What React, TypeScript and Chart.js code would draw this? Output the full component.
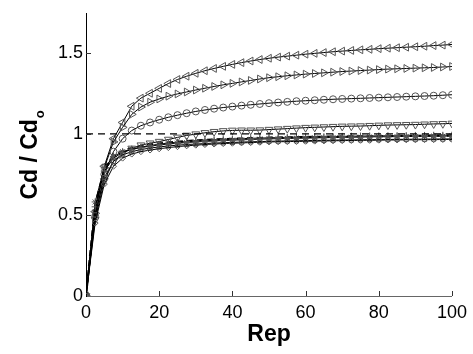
import React, { useEffect, useRef } from "react";
import { Chart, registerables } from "chart.js";

Chart.register(...registerables);

const xValues = [0, 2.5, 5, 7.5, 10, 12.5, 15, 17.5, 20, 22.5, 25, 27.5, 30, 32.5, 35, 37.5, 40, 42.5, 45, 47.5, 50, 52.5, 55, 57.5, 60, 62.5, 65, 67.5, 70, 72.5, 75, 77.5, 80, 82.5, 85, 87.5, 90, 92.5, 95, 97.5, 100];

const seriesLeftTri = [0, 0.52, 0.80, 0.97, 1.07, 1.17, 1.22, 1.25, 1.28, 1.31, 1.335, 1.355, 1.373, 1.389, 1.403, 1.416, 1.428, 1.439, 1.449, 1.458, 1.466, 1.473, 1.479, 1.485, 1.491, 1.496, 1.501, 1.506, 1.51, 1.514, 1.518, 1.521, 1.525, 1.528, 1.531, 1.534, 1.537, 1.540, 1.544, 1.547, 1.551];
const seriesRightTri = [0, 0.51, 0.79, 0.95, 1.04, 1.12, 1.165, 1.195, 1.215, 1.232, 1.246, 1.258, 1.27, 1.281, 1.292, 1.302, 1.311, 1.32, 1.329, 1.338, 1.346, 1.352, 1.358, 1.363, 1.368, 1.372, 1.376, 1.38, 1.384, 1.387, 1.39, 1.393, 1.396, 1.399, 1.401, 1.403, 1.405, 1.407, 1.409, 1.412, 1.415];
const seriesCircle = [0, 0.49, 0.75, 0.89, 0.97, 1.02, 1.05, 1.07, 1.087, 1.102, 1.115, 1.127, 1.138, 1.147, 1.155, 1.162, 1.168, 1.174, 1.179, 1.184, 1.189, 1.193, 1.197, 1.201, 1.204, 1.207, 1.21, 1.213, 1.215, 1.217, 1.219, 1.221, 1.223, 1.225, 1.227, 1.229, 1.231, 1.233, 1.235, 1.238, 1.241];
const seriesDownTri = [0, 0.47, 0.71, 0.83, 0.88, 0.91, 0.93, 0.942, 0.952, 0.965, 0.978, 0.99, 0.998, 1.006, 1.013, 1.018, 1.021, 1.022, 1.022, 1.023, 1.026, 1.029, 1.032, 1.035, 1.038, 1.04, 1.042, 1.044, 1.046, 1.047, 1.048, 1.05, 1.052, 1.054, 1.055, 1.056, 1.057, 1.059, 1.061, 1.062, 1.064];
const seriesStar = [0, 0.58, 0.79, 0.86, 0.89, 0.905, 0.915, 0.924, 0.931, 0.937, 0.942, 0.946, 0.95, 0.953, 0.956, 0.959, 0.961, 0.963, 0.965, 0.967, 0.969, 0.97, 0.972, 0.973, 0.974, 0.975, 0.976, 0.977, 0.978, 0.979, 0.98, 0.981, 0.982, 0.982, 0.983, 0.984, 0.984, 0.985, 0.986, 0.986, 0.987];
const seriesPlus = [0, 0.55, 0.77, 0.85, 0.885, 0.905, 0.918, 0.928, 0.936, 0.943, 0.948, 0.953, 0.957, 0.96, 0.963, 0.966, 0.968, 0.97, 0.972, 0.974, 0.975, 0.977, 0.978, 0.979, 0.98, 0.981, 0.982, 0.983, 0.984, 0.985, 0.986, 0.987, 0.987, 0.988, 0.989, 0.989, 0.99, 0.99, 0.991, 0.991, 0.992];
const seriesSquare = [0, 0.5, 0.73, 0.83, 0.87, 0.89, 0.903, 0.912, 0.919, 0.925, 0.93, 0.934, 0.937, 0.94, 0.943, 0.945, 0.947, 0.949, 0.951, 0.952, 0.954, 0.955, 0.956, 0.957, 0.958, 0.959, 0.96, 0.961, 0.962, 0.962, 0.963, 0.964, 0.964, 0.965, 0.966, 0.966, 0.967, 0.967, 0.968, 0.968, 0.969];
const seriesDiamond = [0, 0.45, 0.69, 0.8, 0.85, 0.875, 0.89, 0.9, 0.908, 0.915, 0.921, 0.926, 0.93, 0.934, 0.937, 0.94, 0.942, 0.944, 0.946, 0.948, 0.95, 0.951, 0.952, 0.953, 0.954, 0.955, 0.956, 0.957, 0.958, 0.959, 0.96, 0.96, 0.961, 0.962, 0.962, 0.963, 0.963, 0.964, 0.964, 0.965, 0.965];
const seriesDashed = [0, 0.56, 0.78, 0.86, 0.895, 0.912, 0.924, 0.933, 0.94, 0.946, 0.951, 0.955, 0.959, 0.962, 0.965, 0.967, 0.969, 0.971, 0.973, 0.974, 0.976, 0.977, 0.978, 0.979, 0.98, 0.981, 0.982, 0.983, 0.983, 0.984, 0.985, 0.985, 0.986, 0.986, 0.987, 0.987, 0.988, 0.988, 0.989, 0.989, 0.99];

const refX = [0, 100];
const refY = [1, 1];

const xTicks = [0, 20, 40, 60, 80, 100];
const yTicks = [0, 0.5, 1, 1.5];

const xTitle = "Rep";
const yTitleMain = "Cd / Cd";
const yTitleSub = "o";

const FONT = "'Liberation Sans', Arial, Helvetica, sans-serif";

const toPts = (ys: number[]) => xValues.map((x, i) => ({ x, y: ys[i] }));

export default function App() {
  const ref = useRef<HTMLCanvasElement | null>(null);

  useEffect(() => {
    const canvas = ref.current;
    if (!canvas) return;

    const marker = (data: number[], style: any, radius: number, rotation = 0) => ({
      data: toPts(data),
      borderColor: "#000",
      borderWidth: 1,
      pointStyle: style,
      pointRadius: radius,
      pointRotation: rotation,
      pointBorderColor: "#555",
      pointBackgroundColor: "rgba(0,0,0,0)",
      pointBorderWidth: 1,
      fill: false,
      tension: 0,
    });

    const decor = {
      id: "matlabDecor",
      afterDraw(chart: any) {
        const { ctx, chartArea, scales } = chart;
        const xs = scales.x;
        const ys = scales.y;
        ctx.save();
        ctx.strokeStyle = "#333";
        ctx.lineWidth = 1;
        xTicks.forEach((v) => {
          if (v === 0) return;
          const px = Math.round(xs.getPixelForValue(v)) + 0.5;
          ctx.beginPath();
          ctx.moveTo(px, chartArea.bottom);
          ctx.lineTo(px, chartArea.bottom - 5);
          ctx.stroke();
        });
        yTicks.forEach((v) => {
          if (v === 0) return;
          const py = Math.round(ys.getPixelForValue(v)) + 0.5;
          ctx.beginPath();
          ctx.moveTo(chartArea.left, py);
          ctx.lineTo(chartArea.left + 5, py);
          ctx.stroke();
        });
        ctx.fillStyle = "#000";
        ctx.font = `bold 23px ${FONT}`;
        ctx.textAlign = "center";
        ctx.textBaseline = "alphabetic";
        ctx.fillText(xTitle, (chartArea.left + chartArea.right) / 2, 341);

        ctx.translate(37, (chartArea.top + chartArea.bottom) / 2);
        ctx.rotate(-Math.PI / 2);
        ctx.textAlign = "left";
        ctx.font = `bold 23px ${FONT}`;
        const mw = ctx.measureText(yTitleMain).width;
        ctx.font = `bold 13px ${FONT}`;
        const sw = ctx.measureText(yTitleSub).width;
        const total = mw + 1 + sw;
        const start = -total / 2;
        ctx.font = `bold 23px ${FONT}`;
        ctx.fillText(yTitleMain, start, 0);
        ctx.font = `bold 13px ${FONT}`;
        ctx.fillText(yTitleSub, start + mw + 1, 7);
        ctx.restore();
      },
    };

    const chart = new Chart(canvas, {
      type: "line",
      data: {
        datasets: [
          {
            data: refX.map((x, i) => ({ x, y: refY[i] })),
            borderColor: "#000",
            borderWidth: 1.2,
            borderDash: [7, 5],
            pointRadius: 0,
            fill: false,
          },
          marker(seriesDiamond, "rectRot", 3),
          marker(seriesSquare, "rect", 3),
          marker(seriesPlus, "cross", 3.5),
          marker(seriesStar, "star", 3.5),
          {
            data: toPts(seriesDashed),
            borderColor: "#000",
            borderWidth: 2.2,
            borderDash: [6, 4],
            pointRadius: 0,
            fill: false,
          },
          marker(seriesDownTri, "triangle", 4.5, 180),
          marker(seriesCircle, "circle", 3.5),
          marker(seriesRightTri, "triangle", 4.5, 90),
          marker(seriesLeftTri, "triangle", 4.5, -90),
        ] as any,
      },
      options: {
        animation: false,
        responsive: false,
        devicePixelRatio: 1,
        layout: { padding: { left: 0, top: 5, right: 17, bottom: 0 } },
        plugins: { legend: { display: false }, tooltip: { enabled: false } },
        elements: { line: { tension: 0 } },
        scales: {
          x: {
            type: "linear",
            min: 0,
            max: 100,
            afterBuildTicks: (s: any) => {
              s.ticks = xTicks.map((v) => ({ value: v }));
            },
            afterFit: (s: any) => {
              s.height = 58;
            },
            grid: { display: false, drawTicks: false },
            border: { display: true, color: "#666", width: 1 },
            ticks: {
              color: "#000",
              font: { family: FONT, size: 18 },
              padding: 6,
              maxRotation: 0,
              autoSkip: false,
              callback: (v: any) => String(v),
            },
          },
          y: {
            type: "linear",
            min: 0,
            max: 1.74,
            afterBuildTicks: (s: any) => {
              s.ticks = yTicks.map((v) => ({ value: v }));
            },
            afterFit: (s: any) => {
              s.width = 86;
            },
            grid: { display: false, drawTicks: false },
            border: { display: true, color: "#000", width: 1 },
            ticks: {
              color: "#000",
              font: { family: FONT, size: 18 },
              padding: 3,
              autoSkip: false,
              callback: (v: any) => String(v),
            },
          },
        },
      },
      plugins: [decor],
    });

    return () => chart.destroy();
  }, []);

  return (
    <div style={{ position: "absolute", left: 0, top: 0, width: 473, height: 354, background: "#fff" }}>
      <canvas ref={ref} width={473} height={354} style={{ width: 473, height: 354, display: "block" }} />
    </div>
  );
}
